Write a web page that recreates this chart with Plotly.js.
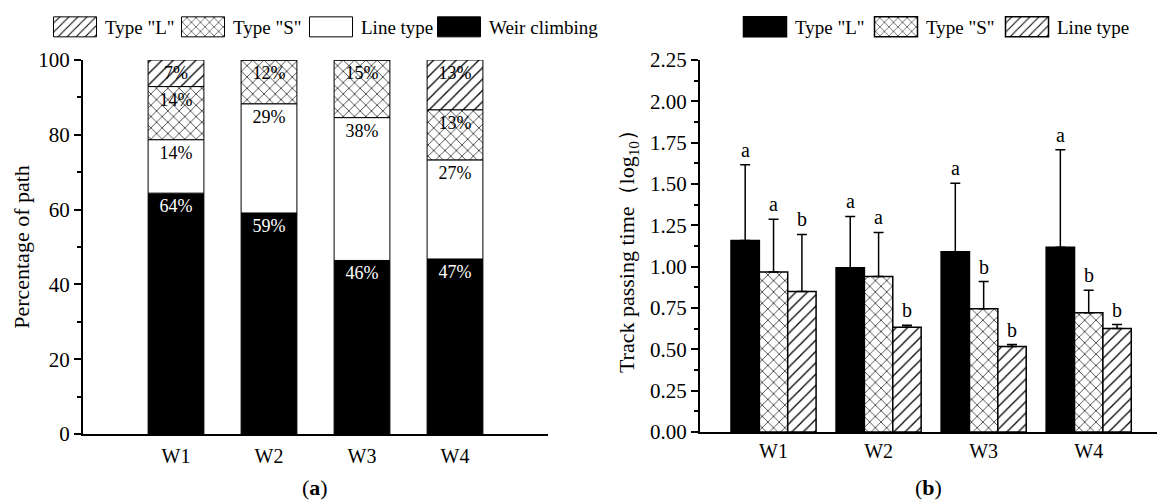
<!DOCTYPE html>
<html>
<head>
<meta charset="utf-8">
<script src="https://cdn.plot.ly/plotly-3.0.1.min.js"></script>
<style>html,body{margin:0;padding:0;background:#fff}#chart{width:1157px;height:502px}</style>
</head>
<body>
<div id="chart"></div>
<script>
// ---------- Panel (a): percentage of path ----------
var sites = ["W1", "W2", "W3", "W4"];
var weirClimbing = [64.4, 59.1, 46.4, 46.8];
var lineTypeA = [14.3, 29.2, 38.2, 26.5];
var typeSA = [14.2, 11.7, 15.4, 13.4];
var typeLA = [7.1, 0, 0, 13.3];

// ---------- Panel (b): track passing time (log10) ----------
var meanL = [1.158, 0.993, 1.090, 1.118];
var errL = [0.458, 0.311, 0.415, 0.589];
var meanS = [0.967, 0.941, 0.745, 0.721];
var errS = [0.320, 0.266, 0.165, 0.137];
var meanLine = [0.850, 0.634, 0.517, 0.626];
var errLine = [0.345, 0.012, 0.012, 0.024];
var letterL = ["a", "a", "a", "a"];
var letterS = ["a", "a", "b", "b"];
var letterLine = ["b", "b", "b", "b"];

var FONT = "Liberation Serif, Times New Roman, serif";
function pct(arr) { return arr.map(function (v) { return v > 0 ? Math.round(v) + "%" : ""; }); }
function zeros(n) { var a = []; for (var i = 0; i < n; i++) a.push(0); return a; }
function addArr(a, b) { return a.map(function (v, i) { return v + b[i]; }); }

var patLines = {shape: "/", fgcolor: "#000", bgcolor: "#fff", size: 8, solidity: 0.16, fillmode: "replace"};
var patCross = {shape: "x", fgcolor: "#000", bgcolor: "#fff", size: 8, solidity: 0.16, fillmode: "replace"};

var textFontA = {family: FONT, size: 18, color: "#000"};
var barWA = 0.6;

// stacked bases for panel (a)
var baseLine = weirClimbing.slice();
var baseS = addArr(baseLine, lineTypeA);
var baseL = addArr(baseS, typeSA);

function stackBar(name, y, base, marker, tf) {
  return {type: "bar", name: name, x: sites, y: y, base: base, xaxis: "x", yaxis: "y",
    marker: marker, text: pct(y), textposition: "inside", insidetextanchor: "end",
    textfont: tf, legend: "legend", width: barWA, offset: -barWA / 2};
}

var traces = [
  stackBar("Weir climbing", weirClimbing, zeros(4), {color: "#000", line: {color: "#000", width: 1}},
    {family: FONT, size: 18, color: "#fff"}),
  stackBar("Line type", lineTypeA, baseLine, {color: "#fff", line: {color: "#000", width: 1}}, textFontA),
  stackBar('Type "S"', typeSA, baseS, {color: "#fff", pattern: patCross, line: {color: "#000", width: 1}}, textFontA),
  stackBar('Type "L"', typeLA, baseL, {color: "#fff", pattern: patLines, line: {color: "#000", width: 1}}, textFontA),

  {type: "bar", name: 'Type "L"', x: sites, y: meanL, xaxis: "x2", yaxis: "y2",
   marker: {color: "#000", line: {color: "#000", width: 1.5}},
   error_y: {type: "data", symmetric: false, array: errL, arrayminus: zeros(4), color: "#000", thickness: 1.5, width: 5},
   legend: "legend2"},
  {type: "bar", name: 'Type "S"', x: sites, y: meanS, xaxis: "x2", yaxis: "y2",
   marker: {color: "#fff", pattern: patCross, line: {color: "#000", width: 1.5}},
   error_y: {type: "data", symmetric: false, array: errS, arrayminus: zeros(4), color: "#000", thickness: 1.5, width: 5},
   legend: "legend2"},
  {type: "bar", name: "Line type", x: sites, y: meanLine, xaxis: "x2", yaxis: "y2",
   marker: {color: "#fff", pattern: patLines, line: {color: "#000", width: 1.5}},
   error_y: {type: "data", symmetric: false, array: errLine, arrayminus: zeros(4), color: "#000", thickness: 1.5, width: 5},
   legend: "legend2"}
];

// significance letters above error bars (positions derived from data)
var annotations = [];
var groups = [[meanL, errL, letterL], [meanS, errS, letterS], [meanLine, errLine, letterLine]];
var bargapB = 0.19;
var barW = (1 - bargapB) / groups.length;
groups.forEach(function (g, k) {
  for (var i = 0; i < sites.length; i++) {
    annotations.push({xref: "x2", yref: "y2", x: i + (k - 1) * barW, y: g[0][i] + g[1][i],
      text: g[2][i], showarrow: false, yanchor: "bottom", yshift: 2,
      font: {family: FONT, size: 20, color: "#000"}});
  }
});
annotations.push({xref: "paper", yref: "paper", x: 315 / 1157, y: 1 - 487 / 502, text: "(<b>a</b>)",
  showarrow: false, xanchor: "center", yanchor: "middle", font: {family: FONT, size: 22, color: "#000"}});
annotations.push({xref: "paper", yref: "paper", x: 928 / 1157, y: 1 - 487 / 502, text: "(<b>b</b>)",
  showarrow: false, xanchor: "center", yanchor: "middle", font: {family: FONT, size: 22, color: "#000"}});

var W = 1157, H = 502;
var axisCommon = {showgrid: false, zeroline: false, showline: true, linecolor: "#000", linewidth: 2,
  tickfont: {family: FONT, size: 21, color: "#000"}, automargin: false};

var layout = {
  width: W, height: H,
  margin: {l: 0, r: 0, t: 0, b: 0, autoexpand: false},
  paper_bgcolor: "#fff", plot_bgcolor: "#fff",
  font: {family: FONT, color: "#000"},
  barmode: "group",
  bargap: bargapB,
  bargroupgap: 0,
  showlegend: true,
  xaxis: Object.assign({}, axisCommon, {domain: [83 / W, 548 / W], anchor: "y", type: "category",
    range: [-1, 4], ticks: "", ticklabelstandoff: 3, tickfont: {family: FONT, size: 20, color: "#000"}}),
  yaxis: Object.assign({}, axisCommon, {domain: [1 - 434 / H, 1 - 60 / H], anchor: "x", range: [0, 100],
    dtick: 20, ticks: "outside", ticklen: 7, tickwidth: 2, tickcolor: "#000",
    minor: {dtick: 10, ticks: "outside", ticklen: 4, tickwidth: 2, tickcolor: "#000"},
    title: {text: "Percentage of path", font: {family: FONT, size: 22, color: "#000"}, standoff: 3}}),
  xaxis2: Object.assign({}, axisCommon, {domain: [700 / W, 1], anchor: "y2", type: "category",
    range: [-0.7, 3.65], ticks: "", tickfont: {family: FONT, size: 20, color: "#000"}}),
  yaxis2: Object.assign({}, axisCommon, {domain: [1 - 432 / H, 1 - 60 / H], anchor: "x2", range: [0, 2.25],
    dtick: 0.25, tickformat: ".2f", ticks: "outside", ticklen: 7, tickwidth: 2, tickcolor: "#000",
    minor: {dtick: 0.125, ticks: "outside", ticklen: 4, tickwidth: 2, tickcolor: "#000"},
    title: {text: "Track passing time（log<sub>10</sub>）", font: {family: FONT, size: 22, color: "#000"}, standoff: 9}}),
  legend: {orientation: "h", x: 49 / W, y: 1 - 8 / H, xanchor: "left", yanchor: "top",
    traceorder: "reversed", font: {family: FONT, size: 19, color: "#000"}, bgcolor: "rgba(0,0,0,0)",
    itemwidth: 46, entrywidth: 67},
  legend2: {orientation: "h", x: 739 / W, y: 1 - 8 / H, xanchor: "left", yanchor: "top",
    traceorder: "normal", font: {family: FONT, size: 19, color: "#000"}, bgcolor: "rgba(0,0,0,0)",
    itemwidth: 46, entrywidth: 70},
  annotations: annotations
};

Plotly.newPlot("chart", traces, layout, {displayModeBar: false, staticPlot: true}).then(function (gd) {
  // widen the legend swatches to match the reference's wide boxes
  gd.querySelectorAll(".legendpoints path").forEach(function (p) {
    p.setAttribute("d", "M19.5,10H-23.5V-10H19.5Z");
  });
  // let legend entry texts run past the fixed entry width
  gd.querySelectorAll(".scrollbox").forEach(function (g) { g.removeAttribute("clip-path"); });
  // drop empty labels of zero-height segments
  gd.querySelectorAll(".bartext").forEach(function (t) {
    if (!t.textContent) { t.parentNode.removeChild(t); }
  });
});
</script>
</body>
</html>
